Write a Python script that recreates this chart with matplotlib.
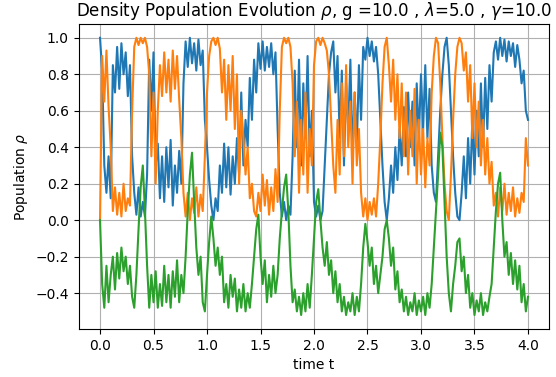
import numpy as np
import matplotlib
matplotlib.use("Agg")
import matplotlib.pyplot as plt

# time grid (step 0.02, from 0 to 4)
time_t = np.round(np.arange(201) * 0.02, 2)

rho_blue = [
    1.00, 0.82, 0.30, 0.15, 0.35, 0.12, 0.85, 0.70, 0.95, 0.72,
    0.97, 0.80, 0.92, 0.68, 0.85, 0.35, 0.15, 0.03, 0.18, 0.02,
    0.10, 0.02, 0.25, 0.88, 0.60, 0.92, 0.30, 0.42, 0.12, 0.35,
    0.10, 0.40, 0.18, 0.44, 0.08, 0.30, 0.15, 0.38, 0.20, 0.75,
    0.98, 0.84, 1.00, 0.86, 0.97, 0.82, 0.99, 0.85, 0.93, 0.55,
    0.40, 0.22, 0.08, 0.00, 0.12, 0.05, 0.30, 0.15, 0.42, 0.18,
    0.40, 0.14, 0.35, 0.20, 0.45, 0.25, 0.70, 0.30, 0.55, 0.40,
    0.78, 0.55, 0.88, 0.70, 0.97, 0.83, 0.98, 0.82, 0.95, 0.84,
    0.97, 0.80, 0.92, 0.50, 0.15, 0.02, 0.10, 0.00, 0.08, 0.03,
    0.35, 0.82, 0.40, 0.88, 0.30, 0.75, 0.45, 0.90, 0.35, 0.60,
    0.10, 0.02, 0.08, 0.00, 0.05, 0.30, 0.55, 0.80, 0.92, 0.98,
    0.70, 0.90, 0.45, 0.82, 0.30, 0.75, 0.50, 0.88, 0.35, 0.70,
    0.40, 0.85, 0.55, 0.95, 0.88, 1.00, 0.90, 0.98, 0.87, 0.95,
    0.80, 0.55, 0.30, 0.10, 0.00, 0.12, 0.30, 0.15, 0.40, 0.22,
    0.50, 0.30, 0.62, 0.35, 0.70, 0.40, 0.65, 0.30, 0.75, 0.45,
    0.80, 0.50, 0.85, 0.45, 0.72, 0.30, 0.15, 0.10, 0.35, 0.60,
    0.80, 0.95, 1.00, 0.85, 0.60, 0.35, 0.15, 0.02, 0.00, 0.15,
    0.35, 0.12, 0.45, 0.20, 0.55, 0.25, 0.60, 0.35, 0.75, 0.40,
    0.78, 0.50, 0.85, 0.65, 0.92, 0.98, 0.88, 1.00, 0.90, 0.99,
    0.87, 0.98, 0.90, 0.97, 0.84, 0.96, 0.88, 0.75, 0.82, 0.60,
    0.55,
]

rho_orange = [
    0.00, 0.90, 0.65, 0.93, 0.62, 0.40, 0.05, 0.18, 0.03, 0.15,
    0.02, 0.20, 0.05, 0.12, 0.08, 0.60, 0.95, 1.00, 0.96, 1.00,
    0.97, 1.00, 0.95, 0.80, 0.35, 0.70, 0.20, 0.60, 0.85, 0.68,
    0.92, 0.70, 0.88, 0.65, 0.93, 0.72, 0.90, 0.66, 0.45, 0.15,
    0.02, 0.15, 0.00, 0.12, 0.04, 0.18, 0.02, 0.14, 0.05, 0.35,
    0.70, 0.90, 0.98, 1.00, 0.96, 1.00, 0.94, 0.70, 0.88, 0.55,
    0.85, 0.60, 0.90, 0.50, 0.80, 0.20, 0.60, 0.45, 0.25, 0.40,
    0.12, 0.20, 0.05, 0.02, 0.15, 0.05, 0.25, 0.08, 0.22, 0.03,
    0.18, 0.05, 0.28, 0.10, 0.60, 0.95, 1.00, 0.97, 1.00, 0.95,
    0.75, 0.35, 0.65, 0.15, 0.55, 0.25, 0.70, 0.15, 0.50, 0.30,
    0.85, 0.98, 1.00, 0.96, 1.00, 0.97, 0.93, 0.80, 0.55, 0.30,
    0.15, 0.55, 0.25, 0.75, 0.35, 0.85, 0.40, 0.65, 0.20, 0.70,
    0.30, 0.50, 0.15, 0.02, 0.12, 0.00, 0.10, 0.03, 0.12, 0.02,
    0.20, 0.45, 0.75, 0.95, 1.00, 0.85, 0.65, 0.88, 0.55, 0.80,
    0.45, 0.75, 0.35, 0.70, 0.25, 0.60, 0.35, 0.72, 0.20, 0.55,
    0.25, 0.50, 0.18, 0.45, 0.30, 0.70, 0.90, 1.00, 0.97, 0.75,
    0.45, 0.20, 0.05, 0.00, 0.25, 0.55, 0.80, 0.95, 1.00, 0.97,
    0.82, 0.92, 0.65, 0.85, 0.45, 0.75, 0.40, 0.65, 0.30, 0.55,
    0.25, 0.45, 0.20, 0.32, 0.08, 0.15, 0.02, 0.18, 0.05, 0.20,
    0.03, 0.15, 0.05, 0.18, 0.02, 0.12, 0.04, 0.15, 0.10, 0.45,
    0.30,
]

rho_green = [
    0.00, -0.35, -0.48, -0.25, -0.45, -0.30, -0.20, -0.38, -0.18, -0.32,
    -0.15, -0.28, -0.20, -0.35, -0.25, -0.42, -0.48, -0.30, -0.05, 0.18,
    0.30, 0.05, -0.25, -0.48, -0.30, -0.45, -0.28, -0.48, -0.35, -0.47,
    -0.25, -0.45, -0.30, -0.48, -0.28, -0.42, -0.22, -0.45, -0.30, -0.40,
    -0.20, 0.05, 0.25, 0.37, 0.10, -0.15, -0.30, -0.20, -0.45, -0.50,
    -0.30, -0.12, 0.02, -0.10, -0.25, -0.15, -0.30, -0.20, -0.45, -0.35,
    -0.48, -0.30, -0.42, -0.32, -0.50, -0.38, -0.48, -0.35, -0.50, -0.40,
    -0.48, -0.35, -0.20, -0.05, 0.03, -0.20, -0.35, -0.22, -0.45, -0.30,
    -0.42, -0.25, -0.40, -0.30, -0.10, 0.05, 0.18, 0.25, 0.05, -0.25,
    -0.45, -0.38, -0.50, -0.42, -0.52, -0.40, -0.50, -0.35, -0.48, -0.30,
    -0.10, 0.10, 0.17, 0.00, -0.15, -0.25, -0.12, -0.30, -0.22, -0.40,
    -0.28, -0.45, -0.35, -0.50, -0.42, -0.52, -0.45, -0.50, -0.40, -0.52,
    -0.42, -0.50, -0.35, -0.15, -0.02, -0.12, -0.25, -0.15, -0.35, -0.25,
    -0.40, -0.30, -0.20, -0.05, 0.00, -0.10, -0.25, -0.15, -0.38, -0.28,
    -0.45, -0.38, -0.50, -0.42, -0.52, -0.45, -0.50, -0.40, -0.52, -0.44,
    -0.50, -0.42, -0.52, -0.40, -0.48, -0.35, -0.15, 0.05, 0.25, 0.48,
    0.40, 0.10, -0.20, -0.40, -0.50, -0.35, -0.25, -0.12, -0.10, -0.28,
    -0.20, -0.40, -0.30, -0.48, -0.40, -0.52, -0.44, -0.50, -0.40, -0.52,
    -0.45, -0.50, -0.42, -0.35, -0.15, 0.05, 0.20, 0.26, 0.00, -0.20,
    -0.12, -0.30, -0.18, -0.35, -0.22, -0.38, -0.25, -0.45, -0.35, -0.50,
    -0.42,
]

title = r"Density Population Evolution $\rho$, g =10.0 , $\lambda$=5.0 , $\gamma$=10.0"

fig = plt.figure(figsize=(5.56, 3.77), dpi=100)
ax = fig.add_axes([0.1414, 0.1276, 0.8467, 0.809])
ax.plot(time_t, rho_blue, color="#1f77b4")
ax.plot(time_t, rho_orange, color="#ff7f0e")
ax.plot(time_t, rho_green, color="#2ca02c")
ax.grid(True)
ax.set_title(title)
ax.set_xlabel("time t")
ax.set_ylabel(r"Population $\rho$")
fig.savefig("out.png", dpi=100)
